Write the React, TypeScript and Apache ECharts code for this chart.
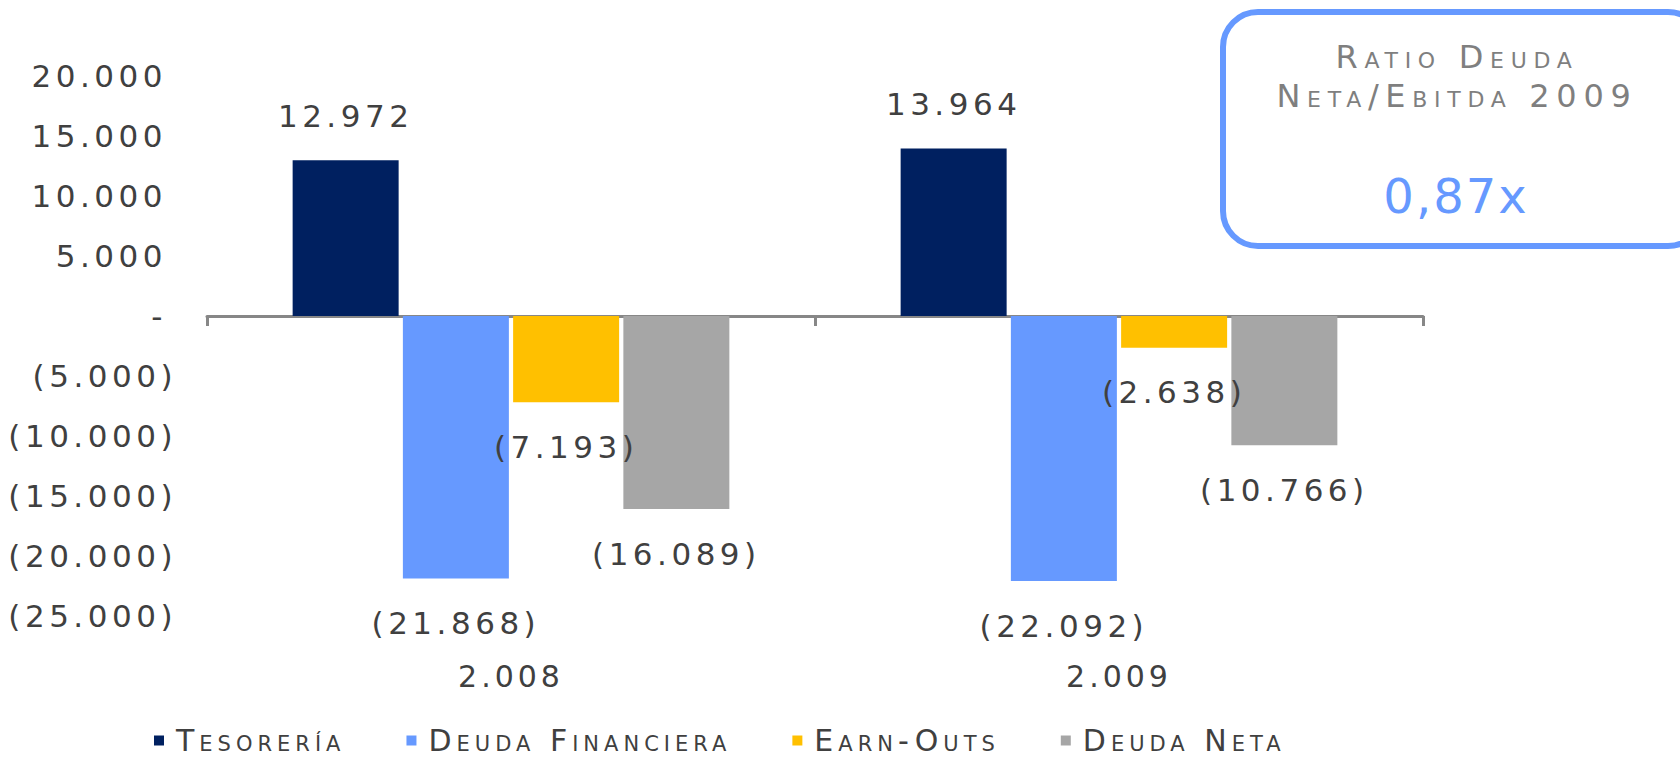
import React, { useEffect, useRef } from 'react';
import * as echarts from 'echarts';

// ---- data ----
const categories = ['2.008', '2.009'];
const seriesNames = ['Tesorería', 'Deuda Financiera', 'Earn-Outs', 'Deuda Neta'];
const tesoreria = [12972, 13964];
const deudaFinanciera = [-21868, -22092];
const earnOuts = [-7193, -2638];
const deudaNeta = [-16089, -10766];
const seriesColors = ['#002060', '#6699FF', '#FFC000', '#A6A6A6'];
const yMin = -25000;
const yMax = 20000;
const yInterval = 5000;
const boxTitleLines = ['Ratio Deuda', 'Neta/Ebitda 2009'];
const boxValue = '0,87x';

// ---- text measuring that understands letter-spacing / small-caps declarations ----
const mCanvas = typeof document !== 'undefined' ? document.createElement('canvas') : null;
const mctx: any = mCanvas ? mCanvas.getContext('2d') : null;
if (mctx && (echarts as any).setPlatformAPI) {
  (echarts as any).setPlatformAPI({
    measureText(text: string, font?: string) {
      const parts = (font || '12px sans-serif').split(';');
      mctx.font = parts[0];
      let ls = '0px';
      let caps = 'normal';
      for (let i = 1; i < parts.length; i++) {
        const idx = parts[i].indexOf(':');
        if (idx < 0) continue;
        const k = parts[i].slice(0, idx).trim();
        const v = parts[i].slice(idx + 1).trim();
        if (k === 'letter-spacing') ls = v;
        else if (k === 'font-variant') caps = v;
      }
      try { mctx.letterSpacing = ls; } catch (e) {}
      try { mctx.fontVariantCaps = caps === 'small-caps' ? 'small-caps' : 'normal'; } catch (e) {}
      return mctx.measureText(text);
    },
  });
}

const FF_NUM = 'DejaVu Sans;letter-spacing:4.5px';
const FF_CAT = 'DejaVu Sans;letter-spacing:4px';
const FF_CAPS = 'DejaVu Sans;letter-spacing:5px;font-variant:small-caps';
const FF_BOX = 'DejaVu Sans;letter-spacing:6.7px;font-variant:small-caps';
const FF_VAL = 'DejaVu Sans;letter-spacing:2px';
const TEXT_COLOR = '#404040';

function fmt(v: number): string {
  const s = Math.abs(Math.round(v)).toString().replace(/\B(?=(\d{3})+(?!\d))/g, '.');
  return v < 0 ? `(${s})` : s;
}

export default function App() {
  const ref = useRef<HTMLDivElement>(null);

  useEffect(() => {
    if (!ref.current) return;
    const chart = echarts.init(ref.current, undefined, { renderer: 'svg' });
    const seriesData = [tesoreria, deudaFinanciera, earnOuts, deudaNeta];

    const option: any = {
      animation: false,
      backgroundColor: '#ffffff',
      grid: {
        left: 207,
        right: 257,
        top: 76,
        bottom: 143,
        containLabel: false,
        outerBoundsMode: 'none',
      },
      legend: {
        left: 149,
        top: 718,
        icon: 'rect',
        itemWidth: 10,
        itemHeight: 10,
        itemGap: 61,
        data: seriesNames,
        textStyle: {
          fontSize: 30,
          lineHeight: 30,
          fontFamily: FF_CAPS,
          color: TEXT_COLOR,
          padding: [0, 0, 0, 7],
        },
      },
      xAxis: [
        {
          type: 'category',
          data: categories,
          position: 'top',
          axisLine: { show: true, onZero: true, lineStyle: { color: '#878787', width: 3 } },
          axisTick: { show: true, inside: true, length: 10, lineStyle: { color: '#878787', width: 3 } },
          axisLabel: { show: false },
          splitLine: { show: false },
        },
        {
          type: 'category',
          data: categories,
          position: 'bottom',
          axisLine: { show: false, onZero: false },
          axisTick: { show: false },
          splitLine: { show: false },
          axisLabel: {
            margin: 45,
            fontSize: 30,
            lineHeight: 30,
            fontFamily: FF_CAT,
            color: TEXT_COLOR,
          },
        },
      ],
      yAxis: {
        type: 'value',
        min: yMin,
        max: yMax,
        interval: yInterval,
        axisLine: { show: false },
        axisTick: { show: false },
        splitLine: { show: false },
        axisLabel: {
          margin: 30,
          fontSize: 31,
          lineHeight: 31,
          fontFamily: FF_NUM,
          color: TEXT_COLOR,
          showMinLabel: true,
          showMaxLabel: true,
          formatter: (v: number) => (v > 0 ? `{p|${fmt(v)}}` : v === 0 ? '{p|-}' : fmt(v)),
          rich: {
            p: {
              fontSize: 31,
              lineHeight: 31,
              fontFamily: FF_NUM,
              color: TEXT_COLOR,
              padding: [0, 10, 0, 0],
            },
          },
        },
      },
      series: seriesNames.map((name, i) => ({
        type: 'bar',
        name,
        xAxisIndex: 0,
        yAxisIndex: 0,
        barWidth: 106,
        barGap: '4%',
        itemStyle: { color: seriesColors[i] },
        label: {
          show: true,
          distance: 29,
          fontSize: 31,
          lineHeight: 31,
          fontFamily: FF_NUM,
          color: TEXT_COLOR,
          formatter: (p: any) => fmt(p.value),
        },
        data: seriesData[i].map((v) => ({
          value: v,
          label: { position: v < 0 ? 'bottom' : 'top' },
        })),
      })),
      graphic: [
        {
          type: 'rect',
          shape: { x: 1223, y: 12, width: 480, height: 234, r: 35 },
          style: { fill: '#ffffff', stroke: '#6699FF', lineWidth: 6 },
          z: 10,
        },
        {
          type: 'text',
          x: 1457,
          y: 57,
          z: 11,
          style: {
            text: boxTitleLines[0],
            fontSize: 32,
            fontFamily: FF_BOX,
            fill: '#7F7F7F',
            align: 'center',
            textAlign: 'center',
            verticalAlign: 'middle',
            textVerticalAlign: 'middle',
          },
        },
        {
          type: 'text',
          x: 1457,
          y: 96,
          z: 11,
          style: {
            text: boxTitleLines[1],
            fontSize: 32,
            fontFamily: FF_BOX,
            fill: '#7F7F7F',
            align: 'center',
            textAlign: 'center',
            verticalAlign: 'middle',
            textVerticalAlign: 'middle',
          },
        },
        {
          type: 'text',
          x: 1456,
          y: 196,
          z: 11,
          style: {
            text: boxValue,
            fontSize: 48,
            fontFamily: FF_VAL,
            fill: '#6699FF',
            align: 'center',
            textAlign: 'center',
            verticalAlign: 'middle',
            textVerticalAlign: 'middle',
          },
        },
      ],
    };

    chart.setOption(option);
    return () => {
      chart.dispose();
    };
  }, []);

  return (
    <div
      ref={ref}
      style={{ position: 'absolute', left: 0, top: 0, width: 1680, height: 759, background: '#fff' }}
    />
  );
}
